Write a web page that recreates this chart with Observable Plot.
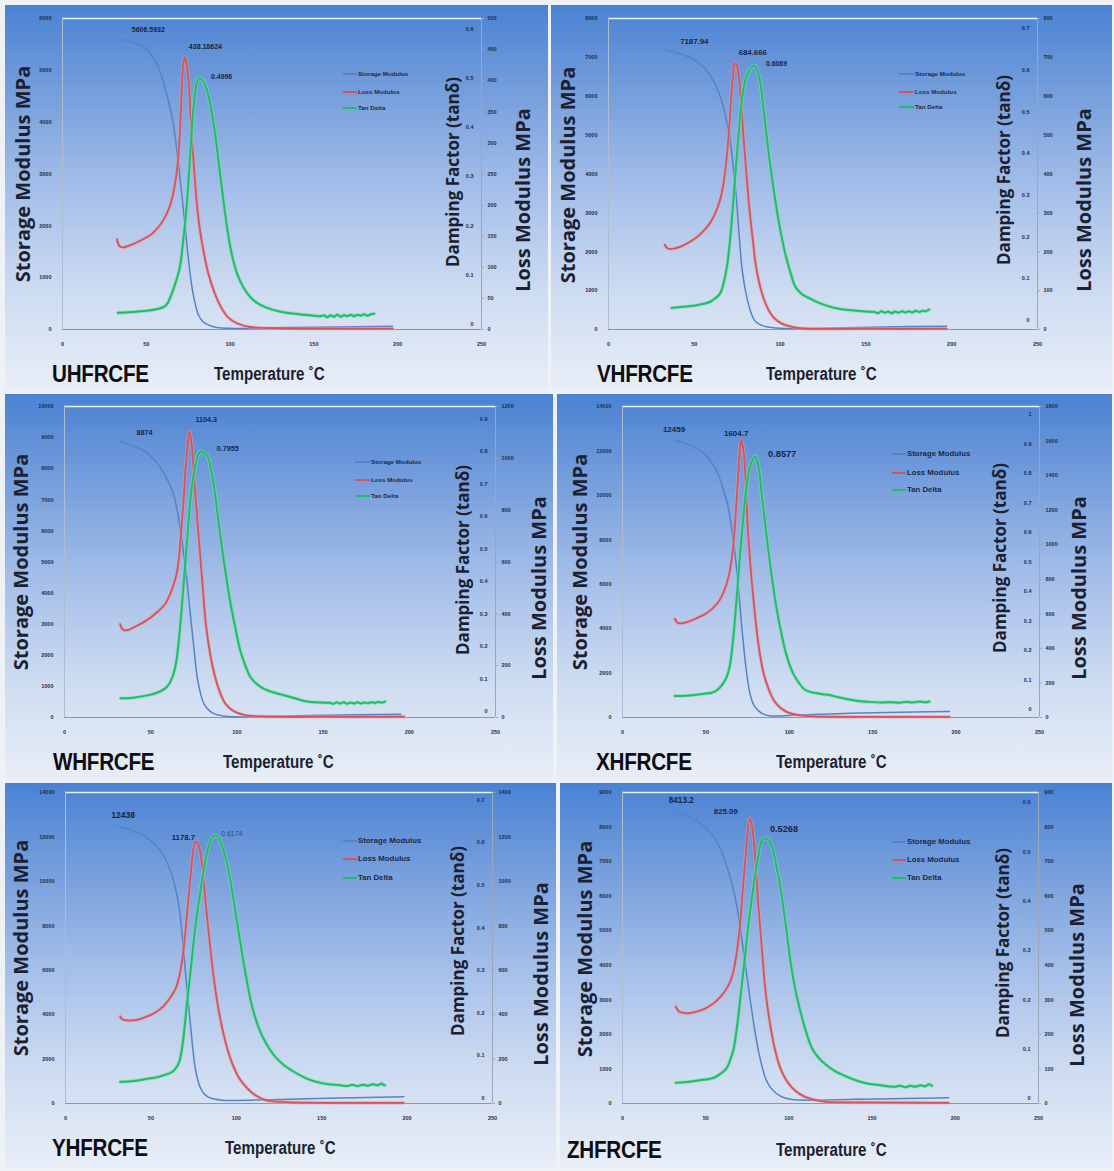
<!DOCTYPE html>
<html><head><meta charset="utf-8">
<script src="https://cdn.jsdelivr.net/npm/d3@7"></script>
<script src="https://cdn.jsdelivr.net/npm/@observablehq/plot@0.6"></script>
<style>
html,body{margin:0;padding:0;background:#fff;}
#root{position:relative;width:1114px;height:1171px;background:#eef1f6;overflow:hidden;}
.panel{position:absolute;background:linear-gradient(to bottom,#4a82d3 0%,#7aa1dd 25%,#a8c1ea 50%,#cedcf1 75%,#e8eef7 100%);}
.abs{position:absolute;white-space:nowrap;line-height:1;}
.vt{transform:translate(-50%,-50%) rotate(-90deg);font-family:"Open Sans";font-weight:700;color:#1b2130;}
.sample{transform-origin:0 50%;transform:translateY(-50%) scaleX(0.86);font-family:"Liberation Sans";font-weight:700;font-size:24px;color:#0d0d12;letter-spacing:-0.3px;}
.temp{transform-origin:0 50%;transform:translateY(-50%) scaleX(0.84);font-family:"Liberation Sans";font-weight:700;font-size:18px;color:#1b2130;}
.leg{transform:translateY(-50%);font-family:"Liberation Sans";font-weight:700;color:#1c2a48;}
</style></head><body><div id="root"></div>
<script>
// ---------------- DATA ----------------
const xTicks = [0, 50, 100, 150, 200, 250];
const sampleNames = ["UHFRCFE", "VHFRCFE", "WHFRCFE", "XHFRCFE", "YHFRCFE", "ZHFRCFE"];
const seriesNames = ["Storage Modulus", "Loss Modulus", "Tan Delta"];

const storageTicks = [
  [0,1000,2000,3000,4000,5000,6000],
  [0,1000,2000,3000,4000,5000,6000,7000,8000],
  [0,1000,2000,3000,4000,5000,6000,7000,8000,9000,10000],
  [0,2000,4000,6000,8000,10000,12000,14000],
  [0,2000,4000,6000,8000,10000,12000,14000],
  [0,1000,2000,3000,4000,5000,6000,7000,8000,9000]
];
const lossTicks = [
  [0,50,100,150,200,250,300,350,400,450,500],
  [0,100,200,300,400,500,600,700,800],
  [0,200,400,600,800,1000,1200],
  [0,200,400,600,800,1000,1200,1400,1600,1800],
  [0,200,400,600,800,1000,1200,1400],
  [0,100,200,300,400,500,600,700,800,900]
];
const tanTicks = [
  [0,0.1,0.2,0.3,0.4,0.5,0.6],
  [0,0.1,0.2,0.3,0.4,0.5,0.6,0.7],
  [0,0.1,0.2,0.3,0.4,0.5,0.6,0.7,0.8,0.9],
  [0,0.1,0.2,0.3,0.4,0.5,0.6,0.7,0.8,0.9,1],
  [0,0.1,0.2,0.3,0.4,0.5,0.6,0.7],
  [0,0.1,0.2,0.3,0.4,0.5,0.6]
];
// tan delta axis extent (bottom, top of plot frame)
const tanRange = [[-0.010,0.621],[-0.022,0.724],[-0.018,0.938],[-0.028,1.027],[-0.013,0.718],[-0.010,0.620]];

// peak annotations: [temperature, value, label]
const U_peaks = [[33,5606.5932,"5606.5932"],[73,438.18624,"438.18624"],[81.5,0.4996,"0.4996"]];
const V_peaks = [[33,7187.94,"7187.94"],[73.5,684.666,"684.666"],[84.75,0.6089,"0.6089"]];
const W_peaks = [[32.5,8874,"8874"],[72.5,1104.3,"1104.3"],[80.8,0.7955,"0.7955"]];
const X_peaks = [[31.4,12459,"12459"],[71,1604.7,"1604.7"],[79.5,0.8577,"0.8577"]];
const Y_peaks = [[32,12438,"12438"],[76.2,1178.7,"1178.7"],[87.6,0.6174,"0.6174"]];
const Z_peaks = [[32,8413.2,"8413.2"],[76.5,825.09,"825.09"],[85.6,0.5268,"0.5268"]];

// ---- UHFRCFE ----
const U_storage = [[33,5607],[40,5560],[48,5460],[53,5300],[57,5075],[60,4800],[63,4430],[65.5,4080],[67.5,3650],[69,3250],[70.7,2750],[72.5,2200],[74,1710],[75.5,1250],[77,870],[79,520],[81,290],[83.5,160],[86.6,95],[90,55],[95,30],[100,22],[120,30],[150,45],[175,55],[197,62]];
const U_loss = [[32.5,145],[34,134],[36,132],[40,135],[48,145],[53,153],[57,164],[60,175],[63,191],[65.5,212],[67.5,240],[69,275],[70,315],[71.3,396],[72.2,430],[73,438],[73.8,430],[75,407],[76,365],[77,315],[78.5,260],[80,207],[82,160],[84.5,121],[87,90],[91,57],[95,34],[99,19],[104,10],[112,4],[130,2],[160,1.5],[197,1.5]];
const U_tan = [[33,0.024],[40,0.025],[50,0.028],[56,0.031],[61,0.037],[63,0.045],[65,0.061],[67,0.08],[70,0.116],[72,0.17],[74,0.238],[75.5,0.31],[77,0.388],[78.5,0.45],[80,0.488],[81.5,0.4996],[83,0.497],[85.5,0.483],[88,0.45],[91,0.388],[93.5,0.32],[96,0.252],[98.5,0.19],[101,0.143],[104,0.105],[108,0.075],[112,0.056],[116,0.044],[122,0.034],[129,0.027],[136,0.023],[144,0.020],[150,0.018],[154,0.017],[156,0.019],[158,0.015],[160,0.019],[162,0.016],[164,0.020],[166,0.016],[168,0.019],[170,0.017],[172,0.020],[174,0.017],[176,0.020],[178,0.018],[180,0.021],[182,0.018],[184,0.021],[186,0.022]];

// ---- VHFRCFE ----
const V_storage = [[33,7188],[40,7120],[50.4,6930],[56,6720],[61,6415],[64,6120],[67,5730],[69,5300],[71.4,4700],[73,4050],[74.6,3330],[76,2500],[77.7,1610],[79.3,1120],[81,755],[83,440],[85,240],[88,130],[92,69],[97,40],[103,26],[130,40],[160,65],[197,86]];
const V_loss = [[32.8,218],[34,210],[35.7,207],[38,208],[42,213],[46,222],[50.4,234],[55,252],[59,273],[62,297],[65,333],[67,375],[69.3,461],[70.5,530],[71.4,590],[72.5,650],[73.5,684.7],[74.5,682],[76,650],[77.5,570],[78.8,487],[80.4,400],[82,316],[84,235],[86,161],[89,100],[92.4,58],[96,32],[101,15],[107,7],[113,3],[150,2],[197,2]];
const V_tan = [[36.8,0.030],[45,0.033],[52,0.037],[59,0.044],[62,0.052],[65,0.064],[67,0.088],[69,0.128],[71,0.2],[73.5,0.328],[75.5,0.43],[77.7,0.528],[80,0.58],[82,0.600],[84,0.609],[85.5,0.609],[87,0.595],[88.5,0.57],[90,0.52],[92,0.448],[94,0.38],[96.6,0.304],[99.5,0.23],[103,0.16],[106,0.115],[109,0.08],[113,0.062],[117.6,0.052],[122,0.043],[128,0.034],[134,0.028],[142,0.024],[150,0.021],[155,0.020],[157,0.017],[159,0.022],[161,0.018],[163,0.021],[165,0.017],[167,0.021],[169,0.018],[171,0.022],[173,0.019],[175,0.022],[177,0.019],[179,0.023],[181,0.020],[183,0.023],[185,0.022],[187,0.026]];

// ---- WHFRCFE ----
const W_storage = [[32.5,8884],[40,8720],[46,8584],[50,8400],[54,8155],[58.5,7780],[62.5,7296],[64.7,6850],[66.7,6223],[68.8,5400],[70.8,4506],[72.4,3650],[74,2790],[75.5,2000],[77,1288],[79,750],[81,429],[84,220],[87.4,107],[92,50],[98,21],[120,40],[150,70],[170,90],[195,107]];
const W_loss = [[32.3,360],[33.5,342],[34.6,337],[37,338],[42,354],[46,368],[50,386],[54,408],[58.4,438],[61.5,480],[64.6,541],[66.3,610],[67.7,721],[69,830],[70,940],[71.3,1040],[72.5,1104],[73.7,1060],[75,940],[76.5,810],[78,682],[80,520],[82,360],[84.5,245],[87.4,155],[90.5,92],[93.6,51],[98,25],[104,10],[115,4],[150,3],[197,3]];
const W_tan = [[32.5,0.041],[40,0.043],[48,0.05],[54,0.059],[58,0.07],[60.5,0.084],[62.5,0.105],[64.6,0.146],[66.7,0.24],[68.8,0.372],[71,0.52],[73,0.649],[75,0.73],[77,0.782],[79,0.8],[80.8,0.7955],[82.5,0.79],[84.3,0.762],[86.5,0.7],[89.5,0.577],[92.5,0.46],[95.7,0.351],[99,0.26],[102,0.187],[105,0.14],[108,0.105],[112,0.083],[116,0.069],[122,0.058],[129,0.048],[135,0.039],[141,0.031],[148,0.028],[154,0.027],[156,0.024],[158,0.029],[160,0.025],[162,0.029],[164,0.024],[166,0.028],[168,0.025],[170,0.029],[172,0.025],[174,0.028],[176,0.026],[178,0.029],[180,0.027],[182,0.030],[184,0.028],[186,0.031]];

// ---- XHFRCFE ----
const X_storage = [[31.4,12459],[38,12330],[45,12093],[50,11800],[54,11416],[57,11000],[60,10365],[62.5,9750],[64.5,9013],[66,8200],[67.7,7210],[69.4,5900],[71,4506],[72.5,3300],[74,2253],[75.5,1450],[77,901],[79,520],[81.6,300],[84.5,150],[88,75],[93,70],[100,90],[120,150],[150,210],[175,250],[196,270]];
const X_loss = [[31.4,570],[33,548],[34.6,545],[37,548],[41,560],[45,578],[49.6,599],[54,632],[58,676],[61,735],[63.5,811],[65.2,900],[66.7,1024],[68,1200],[69,1352],[70,1500],[71,1604.7],[72,1575],[73,1506],[74,1330],[75,1120],[76.7,880],[78.4,695],[80.5,500],[82.7,348],[85,240],[88,155],[91,95],[94.4,58],[99,30],[105,15],[115,6],[150,4],[196,4]];
const X_tan = [[31.4,0.045],[40,0.047],[48,0.052],[54,0.057],[57,0.066],[60,0.085],[62.5,0.11],[64.5,0.153],[66.7,0.26],[68.8,0.402],[71,0.56],[73,0.685],[74.7,0.77],[76.3,0.821],[78,0.845],[79.5,0.8577],[80.5,0.845],[81.6,0.821],[83.5,0.73],[86,0.606],[89,0.47],[92.3,0.345],[95.5,0.25],[98.7,0.176],[102,0.125],[105,0.096],[109,0.068],[113,0.058],[117,0.054],[120,0.051],[124,0.048],[128.6,0.042],[135,0.034],[141.5,0.028],[148,0.025],[156,0.023],[162,0.024],[166,0.022],[170,0.025],[174,0.023],[178,0.026],[182,0.024],[184,0.026]];

// ---- YHFRCFE ----
const Y_storage = [[32,12438],[38,12320],[45.6,12080],[51,11760],[56,11330],[59.5,10850],[62.4,10279],[64.6,9600],[66.6,8779],[68.2,7650],[69.7,6378],[71.3,5000],[73,3676],[74.5,2500],[76,1576],[77.6,1000],[79.2,675],[81,450],[83.4,300],[87,200],[91.8,150],[100,140],[108.6,150],[130,190],[160,250],[198,300]];
const Y_loss = [[32,392],[33.5,378],[35,375],[38,373],[41,375],[45,384],[49.8,398],[54,417],[58,443],[61.5,478],[64.5,518],[66.7,575],[68.7,668],[70.3,780],[71.8,908],[73.4,1040],[75,1148],[76.2,1178.7],[77.5,1170],[79.2,1118],[80.8,1010],[82.4,878],[84.5,720],[86.6,578],[89,450],[91.8,338],[95,240],[98,173],[102,110],[106.5,68],[111,38],[117,15],[130,6],[160,3],[198,3]];
const Y_tan = [[32,0.038],[40,0.04],[48,0.045],[54,0.049],[58,0.054],[62.4,0.061],[64.6,0.07],[66.6,0.085],[68.7,0.13],[70.8,0.21],[73,0.29],[75,0.367],[77,0.432],[79.2,0.492],[81.3,0.545],[83.4,0.586],[85.5,0.61],[87.6,0.6174],[89.2,0.615],[90.8,0.602],[93.4,0.57],[96,0.524],[99,0.45],[102.3,0.367],[105.5,0.29],[108.6,0.226],[111.8,0.18],[115,0.147],[119,0.118],[123,0.096],[128,0.077],[134,0.061],[140,0.048],[146,0.039],[153,0.033],[161,0.030],[165,0.028],[168,0.031],[171,0.028],[174,0.031],[177,0.029],[180,0.032],[183,0.030],[185,0.034],[186,0.031],[187,0.03]];

// ---- ZHFRCFE ----
const Z_storage = [[32,8413],[38,8330],[45.4,8151],[50,7980],[54,7765],[58.5,7400],[62.5,6897],[66,6300],[69,5643],[71,5000],[73,4292],[75.3,3500],[77.5,2749],[79.7,2050],[81.8,1495],[84,1050],[86,723],[89,460],[92.5,289],[96,190],[101,125],[107,100],[114,96],[140,120],[170,145],[196,164]];
const Z_loss = [[32,280],[34,266],[35.8,263],[39,261],[42,263],[46,268],[49.7,275],[54,287],[58,304],[61.5,325],[64.7,352],[67,390],[69,449],[70.7,520],[72.2,613],[73.7,700],[75,776],[76.5,825.09],[77.5,812],[78.6,776],[80.2,680],[81.8,564],[83.9,440],[86,323],[88.7,230],[91.5,159],[95,100],[99,63],[104,36],[109.7,19],[116,10],[122.5,5],[150,3],[196,2]];
const Z_tan = [[32,0.032],[40,0.034],[48,0.038],[54,0.041],[58,0.048],[62.5,0.061],[64.7,0.078],[66.8,0.101],[69,0.15],[71,0.209],[73.2,0.275],[75.4,0.345],[77.5,0.4],[79.7,0.453],[81.8,0.495],[84,0.524],[85.6,0.5268],[87.2,0.526],[88.8,0.52],[90.4,0.505],[92.5,0.47],[94.7,0.432],[97.8,0.36],[101,0.277],[104.2,0.215],[107.5,0.169],[110.8,0.13],[114,0.101],[118,0.082],[122.5,0.068],[128,0.055],[135,0.044],[141,0.036],[148,0.030],[155,0.027],[163,0.024],[167,0.026],[170,0.023],[173,0.026],[176,0.024],[179,0.027],[182,0.025],[184,0.029],[186,0.026]];

const storageSeries = [U_storage, V_storage, W_storage, X_storage, Y_storage, Z_storage];
const lossSeries = [U_loss, V_loss, W_loss, X_loss, Y_loss, Z_loss];
const tanSeries = [U_tan, V_tan, W_tan, X_tan, Y_tan, Z_tan];
const peaks = [U_peaks, V_peaks, W_peaks, X_peaks, Y_peaks, Z_peaks];

// ---------------- LAYOUT (styles / positions) ----------------
const colors = {storage: "#5583c6", loss: "#d2555e", tan: "#1fbd6b"};
const layout = [
  {box:[5,5,548,390], plot:[62,481,18,329], st:[23,174], dp:[452,172], ls:[523,200], smp:[52,374], tmp:[214,374],
   leg:{x1:343,x2:357,ys:[74,92,108],fs:6.2}, pk:[{dx:14,dy:-9,fs:7},{dx:4,dy:-10,fs:7},{dx:12,dy:-2,fs:6.9}]},
  {box:[551,5,1112,390], plot:[608,1037,18,329], st:[568,175], dp:[1003,170], ls:[1084,200], smp:[597,374], tmp:[766,374],
   leg:{x1:899,x2:914,ys:[74,92,107],fs:6.2}, pk:[{dx:15,dy:-9,fs:7.8},{dx:4,dy:-11,fs:7.8},{dx:12,dy:-3,fs:6.9}]},
  {box:[5,394,553,780], plot:[64,495,406,717], st:[21,562], dp:[462,560], ls:[539,588], smp:[53,762], tmp:[223,762],
   leg:{x1:355,x2:370,ys:[462,480,496],fs:6.2}, pk:[{dx:16,dy:-9,fs:7.2},{dx:6,dy:-12,fs:7.2},{dx:13,dy:-4,fs:7.2}]},
  {box:[557,394,1112,780], plot:[622,1039,406,717], st:[580,562], dp:[999,558], ls:[1079,588], smp:[596,762], tmp:[776,762],
   leg:{x1:892,x2:906,ys:[454,473,490],fs:7.8}, pk:[{dx:-12,dy:-11,fs:8},{dx:-17,dy:-7,fs:8},{dx:13,dy:-2,fs:9.2}]},
  {box:[5,783,556,1168], plot:[65,492,792,1103], st:[21,948], dp:[457,941], ls:[541,974], smp:[52,1148], tmp:[225,1148],
   leg:{x1:343,x2:357,ys:[841,859,878],fs:7.8}, pk:[{dx:-9,dy:-12,fs:8.6},{dx:-24,dy:-4,fs:7.8},{dx:6,dy:-2,fs:7}]},
  {box:[560,783,1112,1168], plot:[622,1038,792,1103], st:[585,949], dp:[1002,943], ls:[1077,975], smp:[567,1150], tmp:[776,1150],
   leg:{x1:892,x2:906,ys:[842,860,878],fs:7.8}, pk:[{dx:-7,dy:-12,fs:8.2},{dx:-36,dy:-7,fs:7.8},{dx:5,dy:-9,fs:9.2}]}
];

const root = document.getElementById("root");
function addDiv(cls, left, top, text, css) {
  const d = document.createElement("div");
  d.className = "abs " + cls;
  d.style.left = left + "px"; d.style.top = top + "px";
  if (text != null) d.textContent = text;
  Object.assign(d.style, css || {});
  root.appendChild(d);
  return d;
}

const tickFont = {fontFamily: "Liberation Sans", fontWeight: "bold", fontSize: 5.5, fill: "#1f2d4d"};
const plain = v => String(v);

layout.forEach((L, i) => {
  const [bx0, by0, bx1, by1] = L.box;
  const [px0, px1, pyTop, pyBot] = L.plot;
  const w = bx1 - bx0, h = by1 - by0;
  const panel = addDiv("panel", bx0, by0, null, {width: w + "px", height: h + "px"});

  const sMax = storageTicks[i][storageTicks[i].length - 1];
  const lMax = lossTicks[i][lossTicks[i].length - 1];
  const [tLo, tHi] = tanRange[i];
  const lossToSto = v => v / lMax * sMax;
  const tanToSto = t => (t - tLo) / (tHi - tLo) * sMax;
  const conv = [v => v, lossToSto, tanToSto];
  const xMax = xTicks[xTicks.length - 1];

  const pk = peaks[i].map((p, k) => ({T: p[0], y: conv[k](p[1]), label: p[2]}));

  const chart = Plot.plot({
    width: w, height: h,
    marginLeft: px0 - bx0, marginRight: bx1 - px1, marginTop: pyTop - by0, marginBottom: by1 - pyBot,
    x: {domain: [0, xMax]},
    y: {domain: [0, sMax]},
    style: {background: "transparent", overflow: "visible", fontFamily: "Liberation Sans"},
    marks: [
      Plot.ruleY([sMax], {stroke: "#eaf2fd", strokeWidth: 1.6}),
      Plot.ruleX([0], {stroke: "#aebcd2", strokeWidth: 1}),
      Plot.ruleX([xMax], {stroke: "#9aa7bb", strokeWidth: 1}),
      Plot.ruleY([0], {stroke: "#8c98ab", strokeWidth: 1}),
      Plot.axisY({anchor: "left", ticks: storageTicks[i], tickFormat: plain, tickSize: 0, tickPadding: 11, label: null, ...tickFont}),
      Plot.axisX({anchor: "bottom", ticks: xTicks, tickFormat: plain, tickSize: 0, tickPadding: 13, label: null, ...tickFont}),
      Plot.axisY({anchor: "right", ticks: lossTicks[i].map(lossToSto), tickFormat: v => String(Math.round(v / sMax * lMax)),
                  tickSize: 2, tickPadding: 4, label: null, stroke: "#9aa7bb", ...tickFont}),
      Plot.text(tanTicks[i], {y: t => tanToSto(t), frameAnchor: "right", text: t => String(t), textAnchor: "end", dx: -8, ...tickFont}),
      Plot.line(storageSeries[i], {x: d => d[0], y: d => d[1], stroke: colors.storage, strokeWidth: 1.5, curve: "catmull-rom"}),
      Plot.line(lossSeries[i], {x: d => d[0], y: d => lossToSto(d[1]), stroke: "#e79aa0", strokeWidth: 3.6, strokeOpacity: 0.55, curve: "catmull-rom"}),
      Plot.line(lossSeries[i], {x: d => d[0], y: d => lossToSto(d[1]), stroke: colors.loss, strokeWidth: 1.8, curve: "catmull-rom"}),
      Plot.line(tanSeries[i], {x: d => d[0], y: d => tanToSto(d[1]), stroke: "#7fdca9", strokeWidth: 3.8, strokeOpacity: 0.6, curve: "catmull-rom"}),
      Plot.line(tanSeries[i], {x: d => d[0], y: d => tanToSto(d[1]), stroke: colors.tan, strokeWidth: 2, curve: "catmull-rom"}),
      ...pk.map((p, k) => Plot.text([p], {x: "T", y: "y", text: "label", textAnchor: "start",
        dx: L.pk[k].dx, dy: L.pk[k].dy, fontSize: L.pk[k].fs, fontFamily: "Liberation Sans",
        fontWeight: (i === 4 && k === 2) ? "normal" : "bold",
        fill: (i === 4 && k === 2) ? "#3b4a6a" : "#1a2540"}))
    ]
  });
  chart.style.position = "absolute";
  chart.style.left = "0px"; chart.style.top = "0px";
  panel.appendChild(chart);

  // axis titles
  addDiv("vt", L.st[0], L.st[1], "Storage Modulus MPa", {fontSize: "20px"});
  addDiv("vt", L.dp[0], L.dp[1], "Damping Factor (tanδ)", {fontSize: "17px"});
  addDiv("vt", L.ls[0], L.ls[1], "Loss Modulus MPa", {fontSize: "20px"});
  addDiv("sample", L.smp[0], L.smp[1], sampleNames[i]);
  addDiv("temp", L.tmp[0], L.tmp[1], "Temperature ˚C");

  // legend
  const lc = [colors.storage, colors.loss, colors.tan];
  seriesNames.forEach((name, k) => {
    addDiv("", L.leg.x1, L.leg.ys[k] - 1, null, {width: (L.leg.x2 - L.leg.x1) + "px", height: "2px", background: lc[k]});
    addDiv("leg", L.leg.x2 + 1, L.leg.ys[k], name, {fontSize: L.leg.fs + "px"});
  });
});
</script></body></html>
